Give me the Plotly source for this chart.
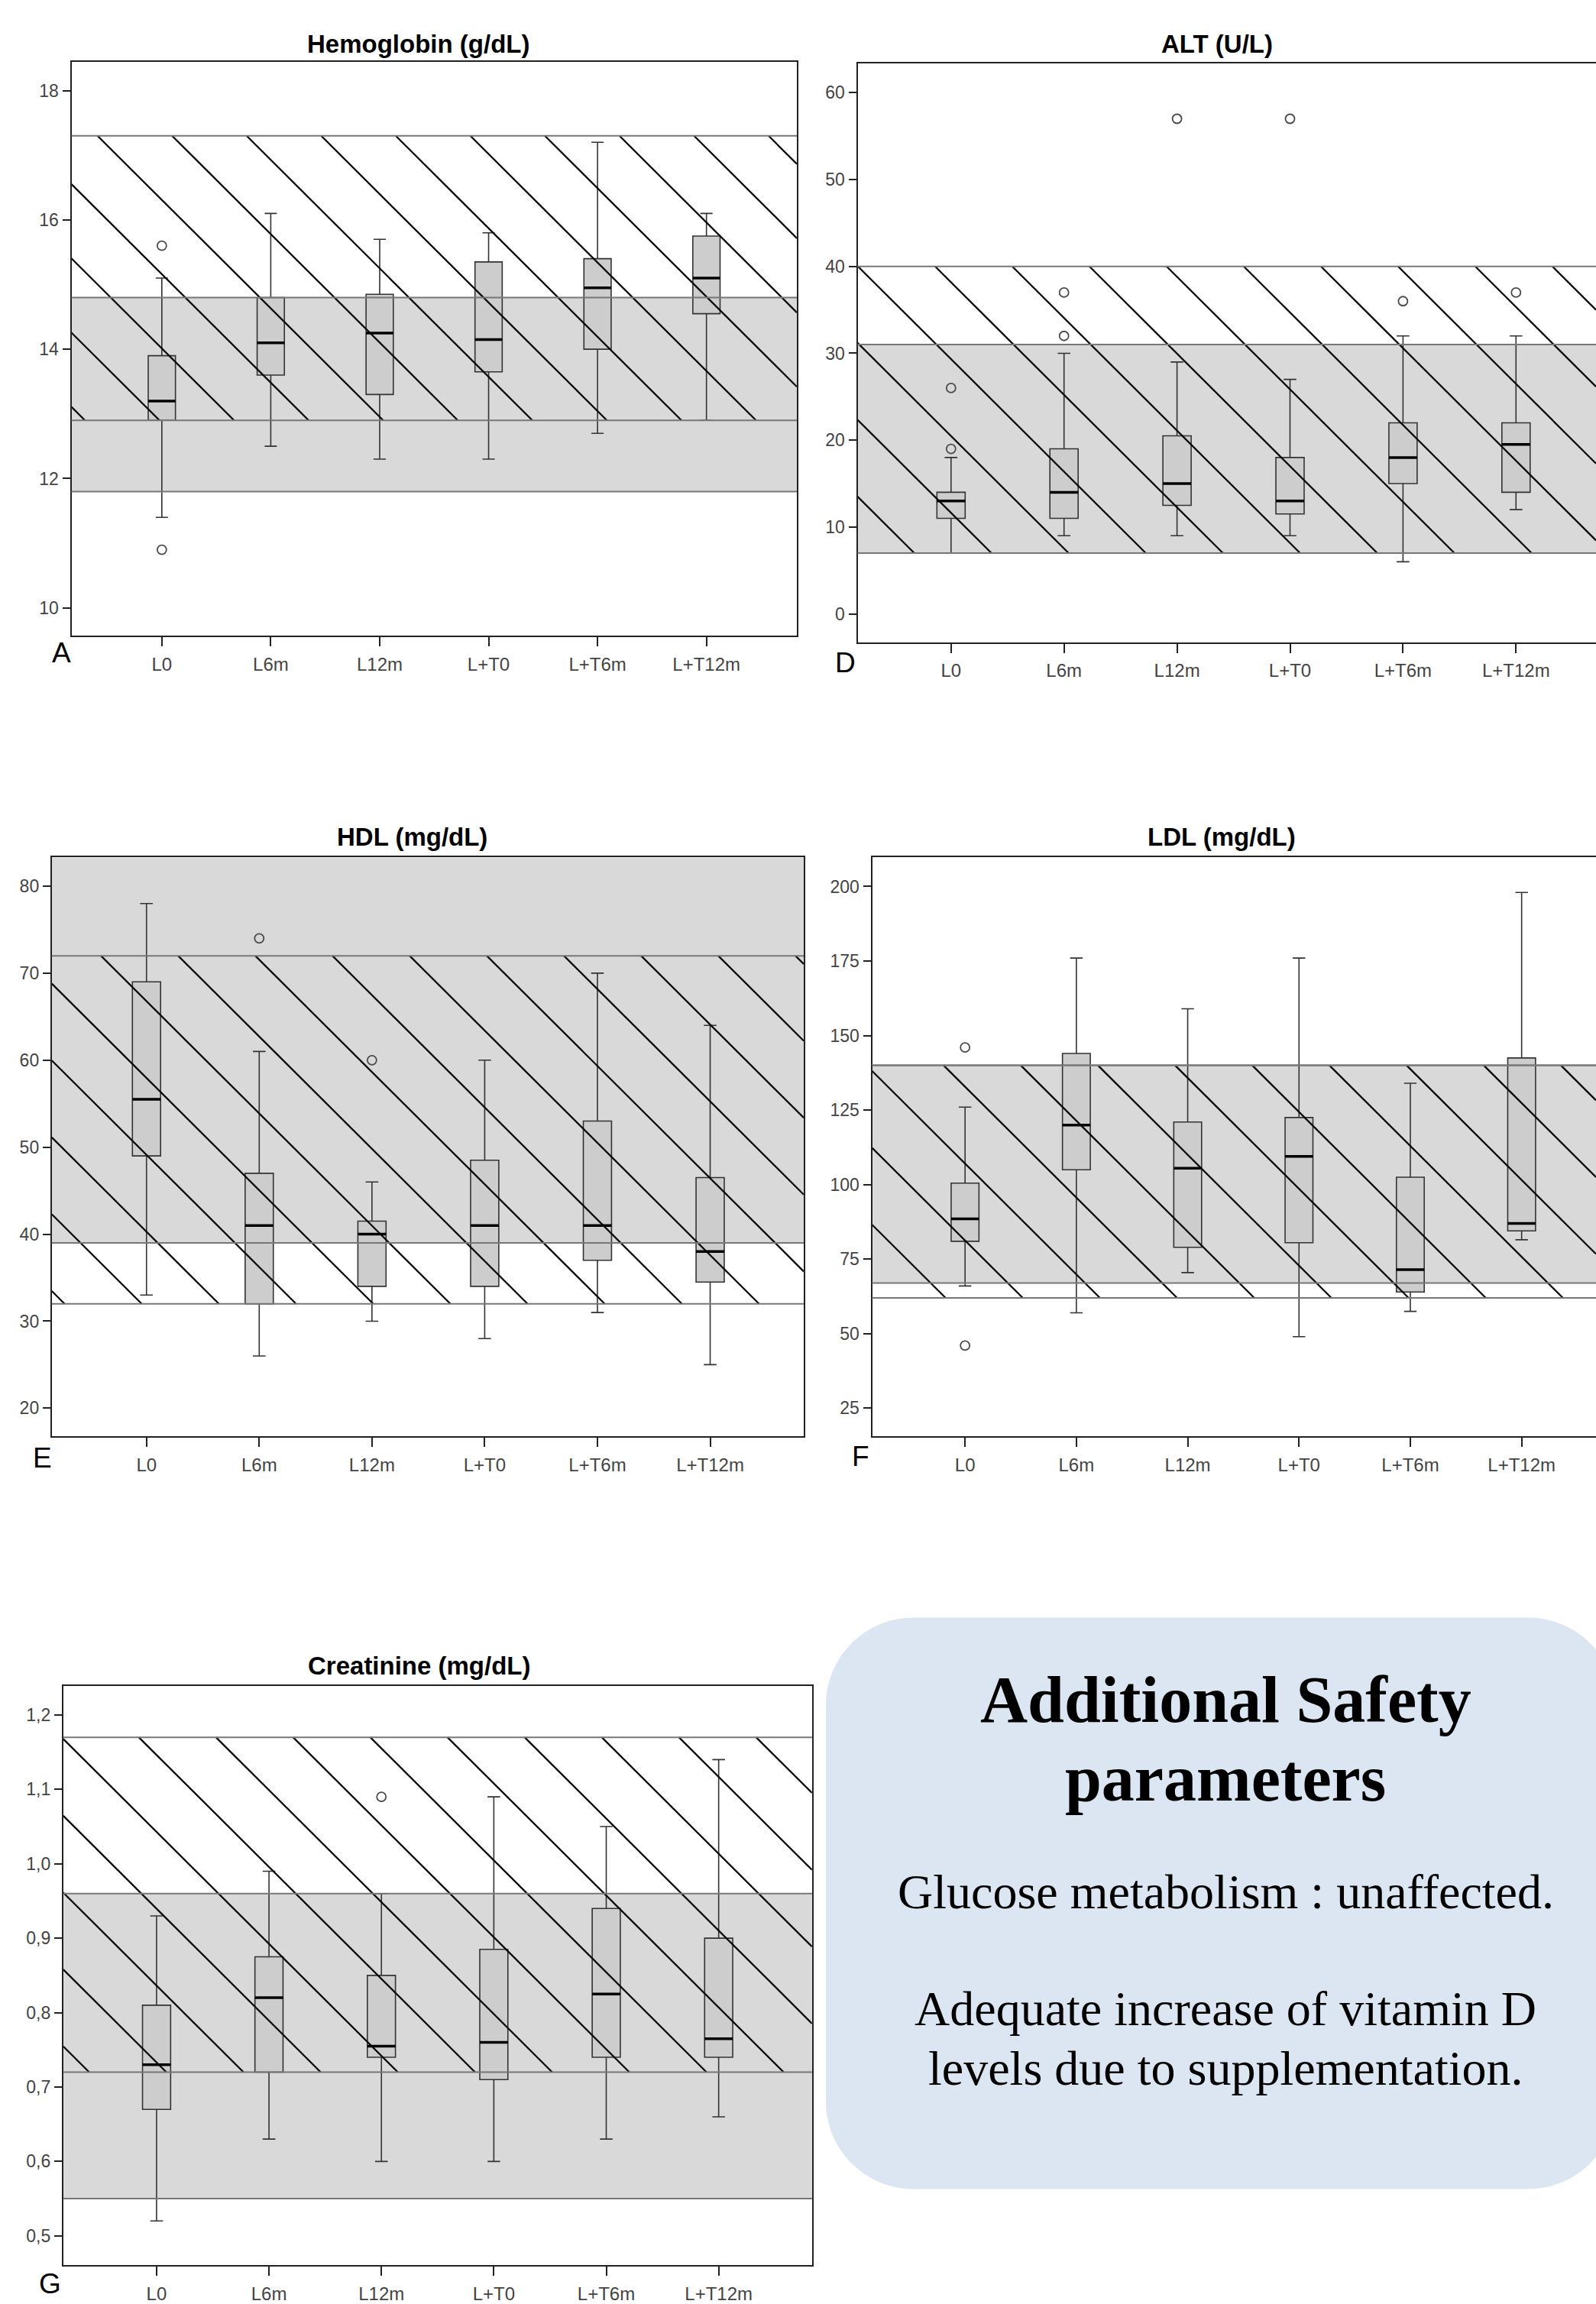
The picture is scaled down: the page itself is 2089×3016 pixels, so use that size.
import plotly.graph_objects as go

W, H = 2089, 3016

categories = ["L0", "L6m", "L12m", "L+T0", "L+T6m", "L+T12m"]

# ---------------- Hemoglobin (g/dL) ----------------
hb_lower = [11.4, 12.5, 12.3, 12.3, 12.7, 12.9]
hb_q1 = [12.9, 13.6, 13.3, 13.65, 14.0, 14.55]
hb_median = [13.2, 14.1, 14.25, 14.15, 14.95, 15.1]
hb_q3 = [13.9, 14.8, 14.85, 15.35, 15.4, 15.75]
hb_upper = [15.1, 16.1, 15.7, 15.8, 17.2, 16.1]
hb_out_cat = ["L0", "L0"]
hb_out_val = [15.6, 10.9]
hb_gray = [11.8, 14.8]
hb_hatch = [12.9, 17.3]

# ---------------- ALT (U/L) ----------------
alt_lower = [7, 9, 9, 9, 6, 12]
alt_q1 = [11, 11, 12.5, 11.5, 15, 14]
alt_median = [13, 14, 15, 13, 18, 19.5]
alt_q3 = [14, 19, 20.5, 18, 22, 22]
alt_upper = [18, 30, 29, 27, 32, 32]
alt_out_cat = ["L0", "L0", "L6m", "L6m", "L12m", "L+T0", "L+T6m", "L+T12m"]
alt_out_val = [26, 19, 37, 32, 57, 57, 36, 37]
alt_gray = [7, 31]
alt_hatch = [7, 40]

# ---------------- HDL (mg/dL) ----------------
hdl_lower = [33, 26, 30, 28, 31, 25]
hdl_q1 = [49, 32, 34, 34, 37, 34.5]
hdl_median = [55.5, 41, 40, 41, 41, 38]
hdl_q3 = [69, 47, 41.5, 48.5, 53, 46.5]
hdl_upper = [78, 61, 46, 60, 70, 64]
hdl_out_cat = ["L6m", "L12m"]
hdl_out_val = [74, 60]
hdl_gray = [39, None]   # open upper limit
hdl_hatch = [32, 72]

# ---------------- LDL (mg/dL) ----------------
ldl_lower = [66, 57, 70.5, 49, 57.5, 81.5]
ldl_q1 = [81, 105, 79, 80.5, 64, 84.5]
ldl_median = [88.5, 120, 105.5, 109.5, 71.5, 87]
ldl_q3 = [100.5, 144, 121, 122.5, 102.5, 142.5]
ldl_upper = [126, 176, 159, 176, 134, 198]
ldl_out_cat = ["L0", "L0"]
ldl_out_val = [146, 46]
ldl_gray = [67, 140]
ldl_hatch = [62, 140]

# ---------------- Creatinine (mg/dL) ----------------
cr_lower = [0.52, 0.63, 0.60, 0.60, 0.63, 0.66]
cr_q1 = [0.67, 0.72, 0.74, 0.71, 0.74, 0.74]
cr_median = [0.73, 0.82, 0.755, 0.76, 0.825, 0.765]
cr_q3 = [0.81, 0.875, 0.85, 0.885, 0.94, 0.90]
cr_upper = [0.93, 0.99, 0.96, 1.09, 1.05, 1.14]
cr_out_cat = ["L12m"]
cr_out_val = [1.09]
cr_gray = [0.55, 0.96]
cr_hatch = [0.72, 1.17]

box_title = ["Additional Safety", "parameters"]
box_lines = ["Glucose metabolism : unaffected.",
             "Adequate increase of vitamin D",
             "levels due to supplementation."]

# panel layout (pixel geometry, styles)
panels = [
    dict(title="Hemoglobin (g/dL)", letter="A",
         data=(hb_lower, hb_q1, hb_median, hb_q3, hb_upper, hb_out_cat, hb_out_val, hb_gray, hb_hatch),
         frame=(93.5, 81.6, 1043, 835.5), xr=(-0.83, 5.83), yr=(9.57, 18.44),
         tick0=10, dtick=2, fmt=None, mirror=True,
         tpos=(547, 57.5), lpos=(80, 858), hsp=97.6, hph=34.8),
    dict(title="ALT (U/L)", letter="D",
         data=(alt_lower, alt_q1, alt_median, alt_q3, alt_upper, alt_out_cat, alt_out_val, alt_gray, alt_hatch),
         frame=(1122.5, 83.4, 2089, 844), xr=(-0.827, 5.708), yr=(-3.26, 63.37),
         tick0=0, dtick=10, fmt=None, mirror=False,
         tpos=(1593, 57.5), lpos=(1106, 871), hsp=101, hph=36.7),
    dict(title="HDL (mg/dL)", letter="E",
         data=(hdl_lower, hdl_q1, hdl_median, hdl_q3, hdl_upper, hdl_out_cat, hdl_out_val, hdl_gray, hdl_hatch),
         frame=(67.8, 1126.7, 1052, 1888), xr=(-0.84, 5.83), yr=(16.74, 83.32),
         tick0=20, dtick=10, fmt=None, mirror=True,
         tpos=(539, 1100), lpos=(55.5, 1916), hsp=101, hph=35.9),
    dict(title="LDL (mg/dL)", letter="F",
         data=(ldl_lower, ldl_q1, ldl_median, ldl_q3, ldl_upper, ldl_out_cat, ldl_out_val, ldl_gray, ldl_hatch),
         frame=(1141.5, 1126.7, 2089, 1888), xr=(-0.835, 5.668), yr=(15.5, 209.8),
         tick0=25, dtick=25, fmt=None, mirror=False,
         tpos=(1599, 1100), lpos=(1126, 1914), hsp=101, hph=22.1),
    dict(title="Creatinine (mg/dL)", letter="G",
         data=(cr_lower, cr_q1, cr_median, cr_q3, cr_upper, cr_out_cat, cr_out_val, cr_gray, cr_hatch),
         frame=(82.8, 2215.6, 1062.8, 2976.9), xr=(-0.83, 5.83), yr=(0.4607, 1.2392),
         tick0=0.5, dtick=0.1, fmt=".1f", mirror=True,
         tpos=(549, 2189), lpos=(65.6, 3001), hsp=101, hph=31.2),
]

BOX_W = 0.25
AX_COLOR = "#222222"
TICK_FONT = dict(family="Liberation Sans, Arial, sans-serif", size=23, color="#444444")


def px2paper(x, y):
    return x / W, 1 - y / H


fig = go.Figure()
shapes = []
annotations = []
layout_axes = {}
xpos = list(range(len(categories)))

for i, p in enumerate(panels, start=1):
    sfx = "" if i == 1 else str(i)
    xa, ya = "x" + sfx, "y" + sfx
    lower, q1, med, q3, upper, out_cat, out_val, gray, hatch = p["data"]
    left, top, right, bottom = p["frame"]
    x0r, x1r = p["xr"]
    y0r, y1r = p["yr"]
    wpx, hpx = right - left, bottom - top

    # gray reference band
    g_lo, g_hi = gray
    if g_hi is None:
        g_hi = y1r
    shapes.append(dict(type="rect", xref=xa + " domain", yref=ya, x0=0, x1=1,
                       y0=g_lo, y1=g_hi, fillcolor="#d9d9d9", line_width=0, layer="below"))

    # hatched reference band (45 degree lines in pixel space)
    h_lo, h_hi = hatch
    sx = wpx / (x1r - x0r)
    sy = hpx / (y1r - y0r)
    Yt = (y1r - h_hi) * sy
    Yb = (y1r - h_lo) * sy
    hx, hy = [], []
    c = p["hph"]
    sp = p["hsp"]
    while c > -Yb:
        c -= sp
    while c < wpx - Yt:
        ya_ = max(Yt, -c)
        yb_ = min(Yb, wpx - c)
        if yb_ > ya_:
            hx += [x0r + (ya_ + c) / sx, x0r + (yb_ + c) / sx, None]
            hy += [y1r - ya_ / sy, y1r - yb_ / sy, None]
        c += sp
    fig.add_trace(go.Scatter(x=hx, y=hy, mode="lines",
                             line=dict(color="#0a0a0a", width=2.3),
                             xaxis=xa, yaxis=ya, hoverinfo="skip", showlegend=False))

    # boxes
    fig.add_trace(go.Box(x=xpos, q1=q1, median=med, q3=q3,
                         lowerfence=lower, upperfence=upper,
                         width=BOX_W, whiskerwidth=0.45,
                         fillcolor="#cdcdcd", line=dict(color="#333333", width=1.6),
                         boxpoints=False, xaxis=xa, yaxis=ya,
                         hoverinfo="skip", showlegend=False))

    # thick black medians
    mx, my = [], []
    for k, m in enumerate(med):
        mx += [k - BOX_W / 2, k + BOX_W / 2, None]
        my += [m, m, None]
    fig.add_trace(go.Scatter(x=mx, y=my, mode="lines", line=dict(color="#000000", width=3.5),
                             xaxis=xa, yaxis=ya, hoverinfo="skip", showlegend=False))

    # outliers
    fig.add_trace(go.Scatter(x=[categories.index(cn) for cn in out_cat], y=out_val,
                             mode="markers",
                             marker=dict(symbol="circle-open", size=12, color="#4a4a4a",
                                         line=dict(width=1.8, color="#4a4a4a")),
                             xaxis=xa, yaxis=ya, hoverinfo="skip", showlegend=False))

    # band boundary lines
    for v in [gray[0], gray[1], hatch[0], hatch[1]]:
        if v is None or v > y1r:
            continue
        shapes.append(dict(type="line", xref=xa + " domain", yref=ya, x0=0, x1=1,
                           y0=v, y1=v, line=dict(color="#777777", width=2), layer="above"))

    xkey = "xaxis" + sfx
    ykey = "yaxis" + sfx
    layout_axes[xkey] = dict(
        domain=[left / W, min(right / W, 1.0)], range=[x0r, x1r], anchor=ya,
        tickmode="array", tickvals=xpos, ticktext=categories,
        ticks="outside", ticklen=12, tickwidth=2, tickcolor=AX_COLOR,
        showline=True, linecolor=AX_COLOR, linewidth=2, mirror=True,
        showgrid=False, zeroline=False, tickfont=dict(TICK_FONT, size=24),
        ticklabelstandoff=3, fixedrange=True)
    yax = dict(
        domain=[1 - bottom / H, 1 - top / H], range=[y0r, y1r], anchor=xa,
        tick0=p["tick0"], dtick=p["dtick"],
        ticks="outside", ticklen=10, tickwidth=2, tickcolor=AX_COLOR,
        showline=True, linecolor=AX_COLOR, linewidth=2, mirror=p["mirror"],
        showgrid=False, zeroline=False, tickfont=TICK_FONT, fixedrange=True)
    if p["fmt"]:
        yax["tickformat"] = p["fmt"]
    layout_axes[ykey] = yax

    tx, ty = px2paper(*p["tpos"])
    annotations.append(dict(x=tx, y=ty, xref="paper", yref="paper", showarrow=False,
                            text="<b>" + p["title"] + "</b>", xanchor="center", yanchor="middle",
                            font=dict(family="Liberation Sans, Arial, sans-serif", size=33, color="#000")))
    lx, ly = px2paper(*p["lpos"])
    annotations.append(dict(x=lx, y=ly, xref="paper", yref="paper", showarrow=False,
                            text=p["letter"], xanchor="center", yanchor="middle",
                            font=dict(family="Liberation Sans, Arial, sans-serif", size=37, color="#000")))

# rounded text box
L, R, T, B, r = 1081, 2115, 2126, 2877, 115
k = 0.5523 * r


def pt(x, y):
    a, b = px2paper(x, y)
    return f"{a:.6f},{b:.6f}"


path = (f"M{pt(L + r, T)} L{pt(R - r, T)} "
        f"C{pt(R - r + k, T)} {pt(R, T + r - k)} {pt(R, T + r)} "
        f"L{pt(R, B - r)} "
        f"C{pt(R, B - r + k)} {pt(R - r + k, B)} {pt(R - r, B)} "
        f"L{pt(L + r, B)} "
        f"C{pt(L + r - k, B)} {pt(L, B - r + k)} {pt(L, B - r)} "
        f"L{pt(L, T + r)} "
        f"C{pt(L, T + r - k)} {pt(L + r - k, T)} {pt(L + r, T)} Z")
shapes.append(dict(type="path", xref="paper", yref="paper", path=path,
                   fillcolor="#dce6f2", line_width=0, layer="below"))

serif = "Liberation Serif, Times New Roman, serif"
for txt, yy in zip(box_title, [2234, 2337]):
    ax_, ay_ = px2paper(1604, yy)
    annotations.append(dict(x=ax_, y=ay_, xref="paper", yref="paper", showarrow=False,
                            text="<b>" + txt + "</b>", xanchor="center", yanchor="middle",
                            font=dict(family=serif, size=86, color="#000")))
for txt, yy in zip(box_lines, [2486, 2640, 2718]):
    ax_, ay_ = px2paper(1604, yy)
    annotations.append(dict(x=ax_, y=ay_, xref="paper", yref="paper", showarrow=False,
                            text=txt, xanchor="center", yanchor="middle",
                            font=dict(family=serif, size=64, color="#000")))

fig.update_layout(
    width=W, height=H, margin=dict(l=0, r=0, t=0, b=0, pad=0),
    paper_bgcolor="white", plot_bgcolor="white",
    showlegend=False, hovermode=False, separators=",.",
    shapes=shapes, annotations=annotations, **layout_axes)

fig.write_html("out.html", config={"displayModeBar": False},
               post_script="document.body.style.margin='0';document.body.style.overflow='hidden';")
